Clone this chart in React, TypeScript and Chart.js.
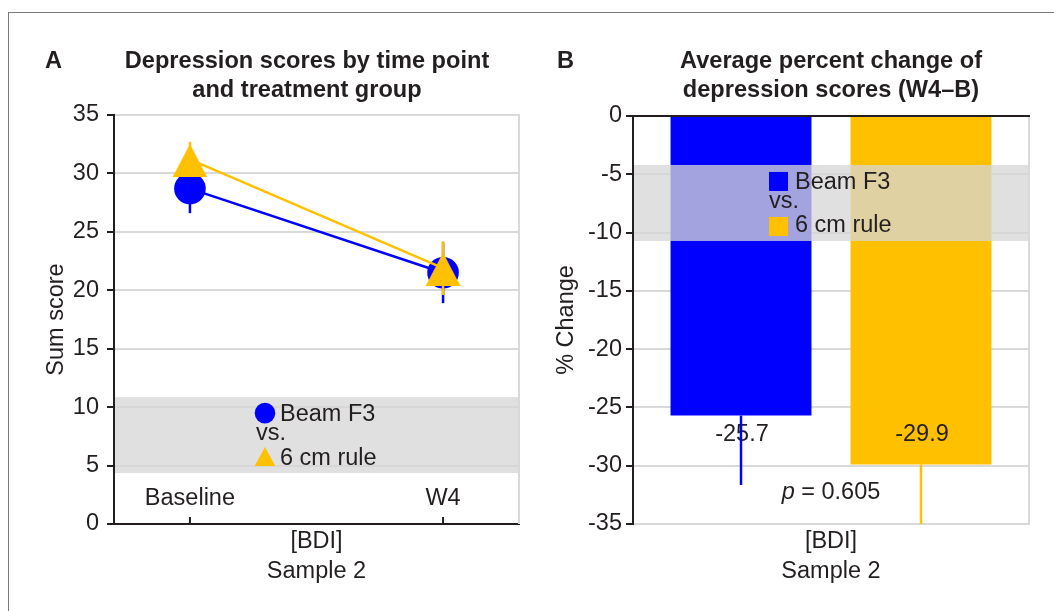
import React, { useEffect, useRef } from "react";
import { Chart, registerables } from "chart.js";

Chart.register(...registerables);

// ---------------- data ----------------
const TIME_POINTS = ["Baseline", "W4"];
const GROUP_NAMES = ["Beam F3", "6 cm rule"];
const BEAM_SUM_MEAN = [28.7, 21.5];
const BEAM_SUM_SD = [2.1, 2.6];
const RULE_SUM_MEAN = [31.2, 21.9];
const RULE_SUM_SD = [1.5, 2.3];
const SUM_AXIS_TICKS = [0, 5, 10, 15, 20, 25, 30, 35];

const CHANGE_CATEGORIES = ["[BDI]"];
const CHANGE_MEAN = [-25.7, -29.9];
const CHANGE_SD = [5.95, 6.6];
const CHANGE_AXIS_TICKS = [0, -5, -10, -15, -20, -25, -30, -35];
const P_VALUE = "0.605";
const AXIS_CAPTION = ["[BDI]", "Sample 2"];

const TITLE_A = ["Depression scores by time point", "and treatment group"];
const TITLE_B = ["Average percent change of", "depression scores (W4\u2013B)"];

// ---------------- styles ----------------
const FONT = '"Liberation Sans", Arial, Helvetica, sans-serif';
const FS = 23.5;
const TFS = 23.6;
const BLUE = "#0000ff";
const ORANGE = "#ffc000";
const GRID = "#d9d9d9";
const DARK = "#231f20";
const BAND = "rgba(214,214,214,0.76)";

const font = (size = FS, weight = "normal", style = "normal") =>
  `${style} ${weight} ${size}px ${FONT}`;

function makeTriangle(w: number, h: number, apex: number, color: string) {
  const c = document.createElement("canvas");
  c.width = w;
  c.height = h;
  const g = c.getContext("2d")!;
  g.fillStyle = color;
  g.beginPath();
  g.moveTo(w / 2, apex);
  g.lineTo(w - 0.5, h);
  g.lineTo(0.5, h);
  g.closePath();
  g.fill();
  return c;
}

function drawTitles(ctx: CanvasRenderingContext2D, letter: string, letterX: number, lines: string[], cx: number) {
  ctx.save();
  ctx.fillStyle = DARK;
  ctx.textBaseline = "middle";
  ctx.font = font(TFS, "bold");
  ctx.textAlign = "left";
  ctx.fillText(letter, letterX, 61);
  ctx.textAlign = "center";
  lines.forEach((l, i) => ctx.fillText(l, cx, 61 + i * 29));
  ctx.restore();
}

function drawBand(ctx: CanvasRenderingContext2D, ca: any, yTop: number, yBot: number) {
  ctx.save();
  ctx.fillStyle = BAND;
  ctx.fillRect(ca.left + 1, yTop, ca.right - ca.left - 1, yBot - yTop);
  ctx.restore();
}

function rightBorder(ctx: CanvasRenderingContext2D, ca: any) {
  ctx.save();
  ctx.strokeStyle = GRID;
  ctx.lineWidth = 2;
  ctx.beginPath();
  ctx.moveTo(ca.right, ca.top - 1);
  ctx.lineTo(ca.right, ca.bottom);
  ctx.stroke();
  ctx.restore();
}

function clipArea(ctx: CanvasRenderingContext2D, ca: any) {
  ctx.beginPath();
  ctx.rect(ca.left, ca.top, ca.right - ca.left, ca.bottom - ca.top);
  ctx.clip();
}

const sumPlugin = {
  id: "sumPanel",
  beforeDatasetDraw(chart: any, args: any) {
    const ds = chart.data.datasets[args.index];
    const sd = ds.errorBars;
    if (!sd) return;
    const { ctx, chartArea: ca } = chart;
    const y = chart.scales.y;
    ctx.save();
    clipArea(ctx, ca);
    ctx.strokeStyle = ds.borderColor;
    ctx.lineWidth = 2.5;
    args.meta.data.forEach((pt: any, i: number) => {
      const v = ds.data[i].y;
      ctx.beginPath();
      ctx.moveTo(pt.x, y.getPixelForValue(v + sd[i]));
      ctx.lineTo(pt.x, y.getPixelForValue(v - sd[i]));
      ctx.stroke();
    });
    ctx.restore();
  },
  afterDatasetsDraw(chart: any) {
    const { ctx, chartArea: ca } = chart;
    const x = chart.scales.x;
    const y = chart.scales.y;
    rightBorder(ctx, ca);
    ctx.save();
    TIME_POINTS.forEach((lab, i) => {
      const px = x.getPixelForValue(i);
      ctx.strokeStyle = DARK;
      ctx.lineWidth = 2;
      ctx.beginPath();
      ctx.moveTo(px, ca.bottom);
      ctx.lineTo(px, ca.bottom - 7);
      ctx.stroke();
      ctx.fillStyle = DARK;
      ctx.font = font();
      ctx.textAlign = "center";
      ctx.textBaseline = "middle";
      ctx.fillText(lab, px, ca.bottom - 25);
    });
    ctx.restore();
    // legend band
    const top = y.getPixelForValue(10.86);
    const bot = y.getPixelForValue(4.36);
    drawBand(ctx, ca, top, bot);
    ctx.save();
    const mx = ca.left + 151;
    ctx.fillStyle = BLUE;
    ctx.beginPath();
    ctx.arc(mx, top + 16, 10.3, 0, Math.PI * 2);
    ctx.fill();
    ctx.fillStyle = ORANGE;
    ctx.beginPath();
    ctx.moveTo(mx, top + 50);
    ctx.lineTo(mx + 10.3, top + 69);
    ctx.lineTo(mx - 10.3, top + 69);
    ctx.closePath();
    ctx.fill();
    ctx.fillStyle = DARK;
    ctx.font = font();
    ctx.textAlign = "left";
    ctx.textBaseline = "middle";
    ctx.fillText(GROUP_NAMES[0], ca.left + 166, top + 17);
    ctx.fillText("vs.", ca.left + 142, top + 36);
    ctx.fillText(GROUP_NAMES[1], ca.left + 166, top + 61);
    ctx.restore();
  },
  afterDraw(chart: any) {
    drawTitles(chart.ctx, "A", 45, TITLE_A, 307);
  },
};

const changePlugin = {
  id: "changePanel",
  afterDatasetsDraw(chart: any) {
    const { ctx, chartArea: ca } = chart;
    const y = chart.scales.y;
    rightBorder(ctx, ca);
    // value labels
    ctx.save();
    ctx.fillStyle = DARK;
    ctx.font = font();
    ctx.textAlign = "center";
    ctx.textBaseline = "middle";
    const labelY = y.getPixelForValue(-27.35);
    chart.data.datasets.forEach((ds: any, di: number) => {
      const meta = chart.getDatasetMeta(di);
      meta.data.forEach((bar: any, i: number) => {
        ctx.fillText(ds.data[i].toFixed(1), bar.x + 1, labelY);
      });
    });
    // p value
    const pY = y.getPixelForValue(-32.3);
    const cx = (ca.left + ca.right) / 2;
    const rest = " = " + P_VALUE;
    ctx.font = font(FS, "normal", "italic");
    const wp = ctx.measureText("p").width;
    ctx.font = font();
    const wr = ctx.measureText(rest).width;
    const x0 = cx - (wp + wr) / 2;
    ctx.textAlign = "left";
    ctx.font = font(FS, "normal", "italic");
    ctx.fillText("p", x0, pY);
    ctx.font = font();
    ctx.fillText(rest, x0 + wp, pY);
    ctx.restore();
    // error bars (lower whiskers; the upper ones lie inside the same-coloured bars)
    ctx.save();
    clipArea(ctx, ca);
    chart.data.datasets.forEach((ds: any, di: number) => {
      const meta = chart.getDatasetMeta(di);
      ctx.strokeStyle = ds.backgroundColor;
      ctx.lineWidth = 2.5;
      meta.data.forEach((bar: any, i: number) => {
        const v = ds.data[i];
        ctx.beginPath();
        ctx.moveTo(bar.x, y.getPixelForValue(v));
        ctx.lineTo(bar.x, y.getPixelForValue(v - ds.errorBars[i]));
        ctx.stroke();
      });
    });
    ctx.restore();
    // zero line on top
    ctx.save();
    ctx.strokeStyle = DARK;
    ctx.lineWidth = 2;
    const z = Math.round(y.getPixelForValue(0));
    ctx.beginPath();
    ctx.moveTo(ca.left - 7, z);
    ctx.lineTo(ca.right + 1, z);
    ctx.stroke();
    ctx.restore();
    // legend band
    const top = y.getPixelForValue(-4.2);
    const bot = y.getPixelForValue(-10.72);
    drawBand(ctx, ca, top, bot);
    ctx.save();
    ctx.fillStyle = BLUE;
    ctx.fillRect(ca.left + 136, top + 7, 19, 19);
    ctx.fillStyle = ORANGE;
    ctx.fillRect(ca.left + 136, top + 52, 19, 19);
    ctx.fillStyle = DARK;
    ctx.font = font();
    ctx.textAlign = "left";
    ctx.textBaseline = "middle";
    ctx.fillText(GROUP_NAMES[0], ca.left + 162, top + 17.5);
    ctx.fillText("vs.", ca.left + 136, top + 37);
    ctx.fillText(GROUP_NAMES[1], ca.left + 162, top + 61);
    ctx.restore();
  },
  afterDraw(chart: any) {
    const ca = chart.chartArea;
    drawTitles(chart.ctx, "B", 27, TITLE_B, (ca.left + ca.right) / 2);
  },
};

const axisTitleFont = { family: FONT, size: FS, lineHeight: 1.28 };

function configA(tri: HTMLCanvasElement): any {
  return {
    type: "line",
    data: {
      datasets: [
        {
          label: GROUP_NAMES[0],
          data: TIME_POINTS.map((_, i) => ({ x: i, y: BEAM_SUM_MEAN[i] })),
          errorBars: BEAM_SUM_SD,
          borderColor: BLUE,
          backgroundColor: BLUE,
          borderWidth: 2.5,
          pointStyle: "circle",
          pointRadius: 15.8,
          pointBorderWidth: 0,
          pointHoverRadius: 15.8,
          order: 2,
        },
        {
          label: GROUP_NAMES[1],
          data: TIME_POINTS.map((_, i) => ({ x: i, y: RULE_SUM_MEAN[i] })),
          errorBars: RULE_SUM_SD,
          borderColor: ORANGE,
          backgroundColor: ORANGE,
          borderWidth: 2.5,
          pointStyle: tri,
          pointRadius: 18,
          pointBorderWidth: 0,
          order: 1,
        },
      ],
    },
    options: {
      responsive: false,
      animation: false,
      events: [],
      layout: { autoPadding: false, padding: { top: 115, right: 11, left: 0, bottom: 0 } },
      plugins: { legend: { display: false }, tooltip: { enabled: false }, title: { display: false } },
      scales: {
        x: {
          type: "linear",
          min: -0.3,
          max: 1.3,
          grid: { display: false },
          border: { color: DARK, width: 2 },
          ticks: { display: false },
          title: {
            display: true,
            text: AXIS_CAPTION,
            color: DARK,
            font: axisTitleFont,
            padding: { top: 0, bottom: 24 },
          },
          afterFit: (s: any) => {
            s.height = 87;
          },
        },
        y: {
          min: 0,
          max: 35,
          afterBuildTicks: (s: any) => {
            s.ticks = SUM_AXIS_TICKS.map((v) => ({ value: v }));
          },
          ticks: { color: DARK, font: { family: FONT, size: FS }, padding: 8 },
          grid: {
            color: (c: any) => (c.tick && c.tick.value === 0 ? "rgba(0,0,0,0)" : GRID),
            lineWidth: 2,
            tickColor: DARK,
            tickLength: 7,
            tickWidth: 2,
          },
          border: { color: DARK, width: 2 },
          title: {
            display: true,
            text: "Sum score",
            color: DARK,
            font: { family: FONT, size: FS, lineHeight: 1.2 },
            padding: { top: 42, bottom: 0 },
          },
          afterFit: (s: any) => {
            s.width = 114;
          },
        },
      },
    },
    plugins: [sumPlugin],
  };
}

function configB(): any {
  return {
    type: "bar",
    data: {
      labels: CHANGE_CATEGORIES,
      datasets: [
        {
          label: GROUP_NAMES[0],
          data: [CHANGE_MEAN[0]],
          errorBars: [CHANGE_SD[0]],
          backgroundColor: BLUE,
          borderWidth: 0,
        },
        {
          label: GROUP_NAMES[1],
          data: [CHANGE_MEAN[1]],
          errorBars: [CHANGE_SD[1]],
          backgroundColor: ORANGE,
          borderWidth: 0,
        },
      ],
    },
    options: {
      responsive: false,
      animation: false,
      events: [],
      categoryPercentage: 0.909,
      barPercentage: 0.783,
      layout: { autoPadding: false, padding: { top: 116, right: 25, left: 0, bottom: 0 } },
      plugins: { legend: { display: false }, tooltip: { enabled: false }, title: { display: false } },
      scales: {
        x: {
          grid: { display: false },
          border: { color: GRID, width: 2 },
          ticks: { display: false },
          title: {
            display: true,
            text: AXIS_CAPTION,
            color: DARK,
            font: axisTitleFont,
            padding: { top: 0, bottom: 24 },
          },
          afterFit: (s: any) => {
            s.height = 87;
          },
        },
        y: {
          min: -35,
          max: 0,
          afterBuildTicks: (s: any) => {
            s.ticks = CHANGE_AXIS_TICKS.map((v) => ({ value: v }));
          },
          ticks: { color: DARK, font: { family: FONT, size: FS }, padding: 4 },
          grid: {
            color: (c: any) => (c.tick && c.tick.value === 0 ? DARK : GRID),
            lineWidth: 2,
            tickColor: DARK,
            tickLength: 7,
            tickWidth: 2,
          },
          border: { color: DARK, width: 2 },
          title: {
            display: true,
            text: "% Change",
            color: DARK,
            font: { family: FONT, size: FS, lineHeight: 1.2 },
            padding: { top: 22, bottom: 0 },
          },
          afterFit: (s: any) => {
            s.width = 103;
          },
        },
      },
    },
    plugins: [changePlugin],
  };
}

export default function App() {
  const refA = useRef<HTMLCanvasElement>(null);
  const refB = useRef<HTMLCanvasElement>(null);
  useEffect(() => {
    const tri = makeTriangle(36, 36, 2.5, ORANGE);
    const a = new Chart(refA.current!, configA(tri));
    const b = new Chart(refB.current!, configB());
    return () => {
      a.destroy();
      b.destroy();
    };
  }, []);
  return (
    <div
      style={{
        position: "fixed",
        left: 0,
        top: 0,
        width: 1054,
        height: 611,
        background: "#fff",
        overflow: "hidden",
      }}
    >
      <div
        style={{
          position: "absolute",
          left: 8,
          top: 12,
          right: -2,
          bottom: -2,
          borderTop: "1px solid #7a7a7a",
          borderLeft: "1px solid #7a7a7a",
        }}
      />
      <canvas ref={refA} width={530} height={611} style={{ position: "absolute", left: 0, top: 0 }} />
      <canvas ref={refB} width={524} height={611} style={{ position: "absolute", left: 530, top: 0 }} />
    </div>
  );
}
